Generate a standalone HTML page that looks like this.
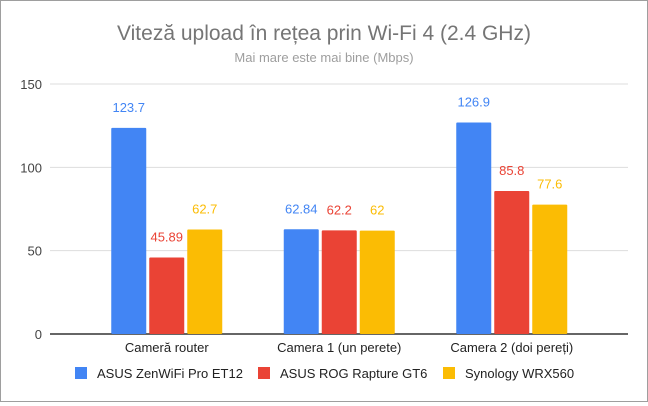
<!DOCTYPE html>
<html><head><meta charset="utf-8"><style>
body{margin:0;background:#fff;font-family:"Liberation Sans",Arial,sans-serif}
#c{position:relative;width:646px;height:400px;border:1px solid #9e9e9e}
</style></head><body>
<div id="c">
<svg id="s" width="646" height="400" viewBox="1 1 646 400" xmlns="http://www.w3.org/2000/svg">
<text x="324" y="40" text-anchor="middle" font-size="21" fill="#757575">Viteză upload în rețea prin Wi-Fi 4 (2.4 GHz)</text>
<text x="324" y="62" text-anchor="middle" font-size="13" fill="#9e9e9e">Mai mare este mai bine (Mbps)</text>
<g id="grid"></g><g id="bars"></g><g id="legend"></g>
</svg></div>
<script>
const categories=["Cameră router","Camera 1 (un perete)","Camera 2 (doi pereți)"];
const seriesNames=["ASUS ZenWiFi Pro ET12","ASUS ROG Rapture GT6","Synology WRX560"];
const asusEt12=[123.7,62.84,126.9];
const asusGt6=[45.89,62.2,85.8];
const synology=[62.7,62,77.6];
const valueLabels=[["123.7","62.84","126.9"],["45.89","62.2","85.8"],["62.7","62","77.6"]];
const yTicks=[0,50,100,150];
const series=[asusEt12,asusGt6,synology];
const colors=["#4285f4","#ea4335","#fbbc04"];
const NS="http://www.w3.org/2000/svg";
const y0=334,y150=84,xl=50,xr=628,bandL=80.5,band=172.5,bw=35,gap=3;
const y=v=>y0-(v/150)*(y0-y150);
function mk(t,a,p){const e=document.createElementNS(NS,t);for(const k in a)e.setAttribute(k,a[k]);p.appendChild(e);return e;}
const g=document.getElementById('grid');
yTicks.forEach(t=>{
 const l=mk('line',{x1:xl,x2:xr,y1:y(t),y2:y(t),stroke:t===0?'#333':'#ddd','stroke-width':t===0?1.5:1},g);
 
 
 const tx=mk('text',{x:42,y:y(t)+5,'text-anchor':'end','font-size':13,fill:'#444'},g);
 tx.textContent=t;
 
 
});
const b=document.getElementById('bars');
categories.forEach((c,i)=>{
 const cx=bandL+band*(i+0.5);
 const ct=mk('text',{x:cx,y:352,'text-anchor':'middle','font-size':13,fill:'#222'},b);
 ct.textContent=c;
 
 
 series.forEach((s,j)=>{
  const x=cx-1.5*bw-gap+j*(bw+gap);
  const r=mk('rect',{x:x,y:y(s[i]),width:bw,height:y0-y(s[i]),fill:colors[j],rx:1},b);
  
  
  const t=mk('text',{x:x+bw/2,y:y(s[i])-16,'text-anchor':'middle','font-size':13,fill:colors[j]},b);
  t.textContent=valueLabels[j][i];
  
  
 });
});
const lg=document.getElementById('legend');
const lx=[75,258,443];
seriesNames.forEach((n,j)=>{
 const r=mk('rect',{x:lx[j],y:367,width:12,height:12,fill:colors[j]},lg);
 
 
 const t=mk('text',{x:lx[j]+22,y:378,'font-size':13,fill:'#222'},lg);
 t.textContent=n;
 
 
});
</script>
</body></html>
